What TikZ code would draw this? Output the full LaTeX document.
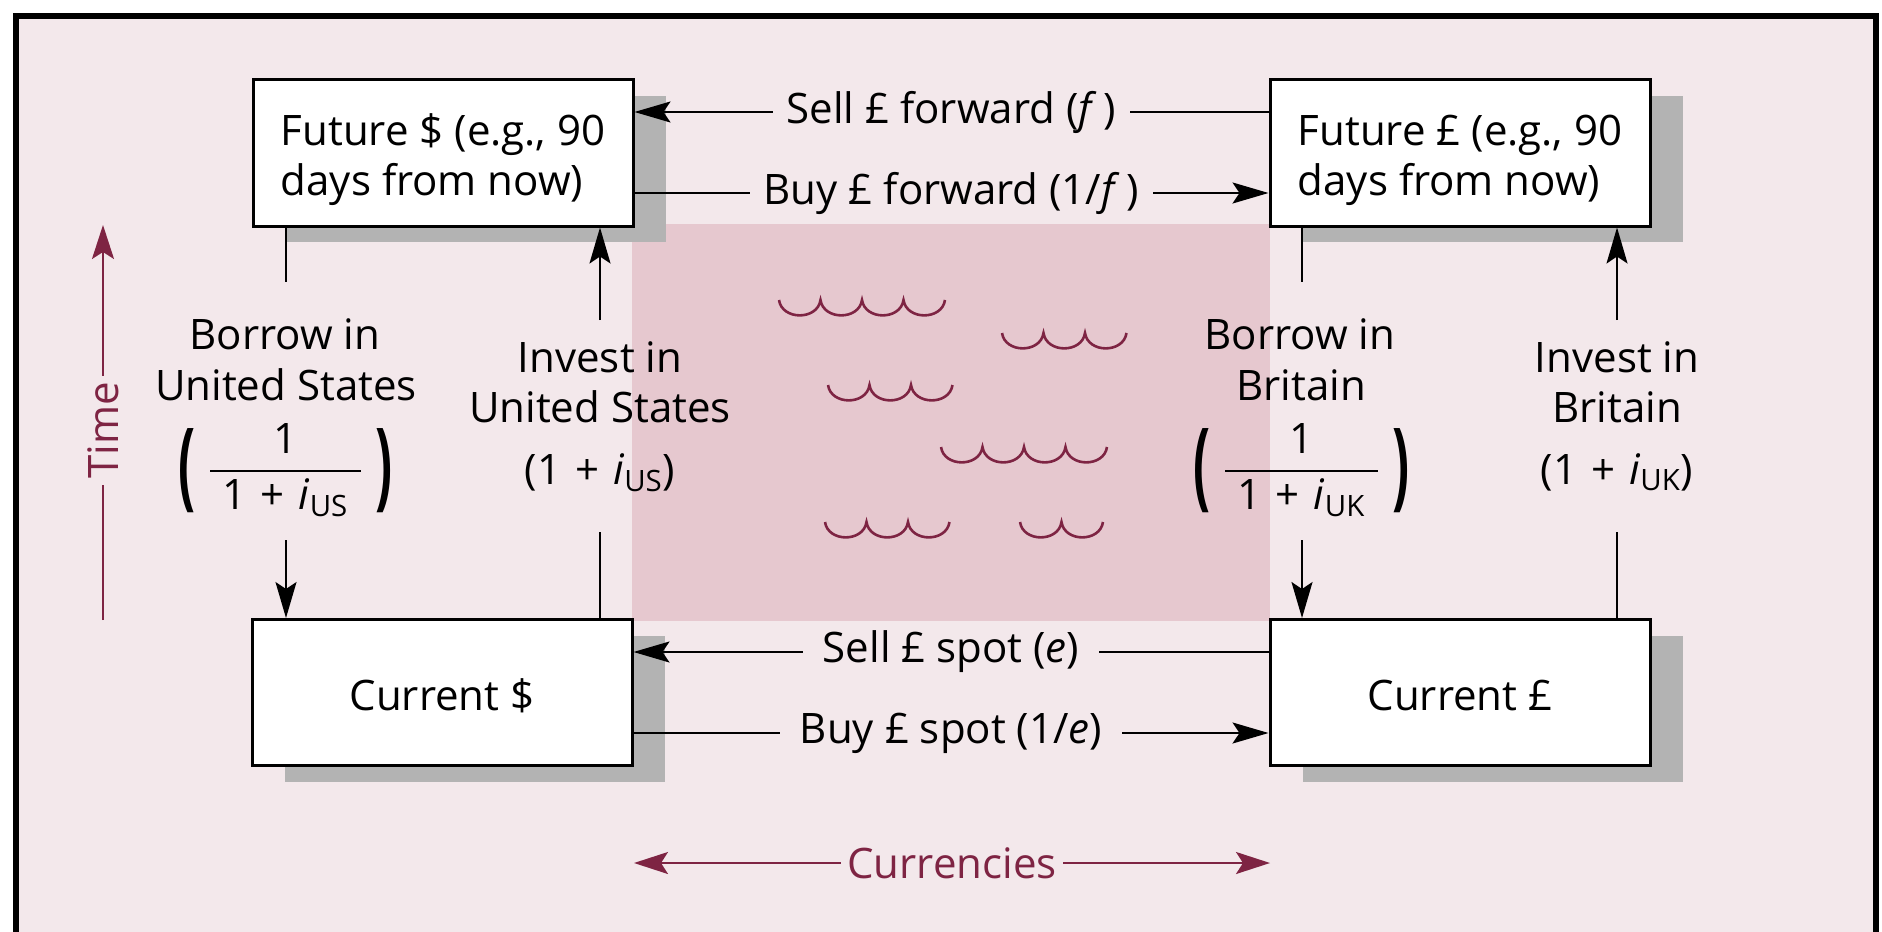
\documentclass[tikz,border=0pt]{standalone}
\usepackage{fontspec}
\usepackage{amsmath}
\usepackage{graphicx}
\setmainfont{Open Sans}
\usetikzlibrary{arrows.meta,shadows,calc}
\definecolor{bgpink}{HTML}{F3E8EB}
\definecolor{midpink}{HTML}{E6C8CF}
\definecolor{maroon}{HTML}{7E2443}
\definecolor{shade}{HTML}{B3B3B3}

% reciprocal-of-interest factor set between tall parentheses
\newcommand{\invfactor}[1]{$\vcenter{\hbox{\scalebox{1.2}[2.3]{\bfseries(}}}\hspace{6pt}%
  \dfrac{\text{1}}{\text{\hspace{0.3em}1\,\,+\,\,\textit{i}\textsubscript{#1}\hspace{0.3em}}}%
  \hspace{6pt}\vcenter{\hbox{\scalebox{1.2}[2.3]{\bfseries)}}}$}

\begin{document}
\begin{tikzpicture}[x=0.5pt, y=-0.5pt,
  every node/.style={font=\fontsize{21}{25}\selectfont},
  box/.style={draw, line width=1.5pt, fill=white, minimum width=190pt,
    minimum height=73pt, inner sep=0pt,
    drop shadow={shadow xshift=16.5pt, shadow yshift=-8pt, fill=shade, opacity=1}},
  boxtext/.style={inner sep=0pt, align=left},
  conn/.style={line width=1pt},
  arr/.style={conn, -{Stealth[length=18pt, width=10.5pt, inset=3.5pt]}},
  lab/.style={fill=bgpink, inner xsep=7pt, inner ysep=1pt},
  marr/.style={line width=1pt, draw=maroon, -{Stealth[length=17pt, width=11pt, inset=3.5pt]}},
  mlab/.style={fill=bgpink, text=maroon, inner xsep=3pt, inner ysep=1pt},
  wave/.style={draw=maroon, line width=1.3pt}
]
\useasboundingbox (0,0) rectangle (1882,931);
\fill[white] (0,0) rectangle (1882,931);
\fill[bgpink] (16,16) rectangle (1876,940);
\draw[line width=3pt] (16,945) -- (16,16) -- (1876,16) -- (1876,945);

% shaded region between the four positions
\fill[midpink] (632,224) rectangle (1270,621);

% waves
\foreach \wx/\wy/\wn in {779/300/4, 1002/333/3, 828/385/3, 941/447/4, 825/522/3, 1020/522/2}
  \draw[wave] (\wx,\wy) foreach \k in {1,...,\wn} { .. controls +(3,20.5) and +(-3,20.5) .. ++(41.5,0) };

% the four positions
\node[box] (FS) at (443,153) {};
\node[box] (FP) at (1460,153) {};
\node[box] (CS) at (442,692.5) {};
\node[box] (CP) at (1460,692.5) {};
\node[boxtext] (FSt) at ([yshift=-3.5pt]FS.center) {Future \$ (e.g., 90\\days from now)};
\node[boxtext] (FPt) at ([yshift=-3.5pt]FP.center) {Future £ (e.g., 90\\days from now)};
\node[boxtext, anchor=base] (CSt) at (442,710) {Current \$};
\node[boxtext, anchor=base] (CPt) at (1460,710) {Current £};

% currency exchanges
\draw[arr] ([yshift=20.5pt]FP.west) -- node[lab] (sf) {Sell £ forward (\textit{f}\,)} ([yshift=20.5pt]FS.east);
\draw[arr] ([yshift=-20pt]FS.east) -- node[lab] (bf) {Buy £ forward (1/\textit{f}\,)} ([yshift=-20pt]FP.west);
\draw[arr] ([yshift=20.25pt]CP.west) -- node[lab, inner xsep=10pt] (ss) {Sell £ spot (\textit{e})} ([yshift=20.25pt]CS.east);
\draw[arr] ([yshift=-20.25pt]CS.east) -- node[lab, inner xsep=10pt] (bs) {Buy £ spot (1/\textit{e})} ([yshift=-20.25pt]CP.west);

% borrowing and investing
\coordinate (bUS1) at (286,282); \coordinate (bUS2) at (286,540);
\coordinate (iUS1) at (600,532); \coordinate (iUS2) at (600,320);
\coordinate (bUK1) at (1302,282); \coordinate (bUK2) at (1302,540);
\coordinate (iUK1) at (1617,532); \coordinate (iUK2) at (1617,320);

\draw[conn] (FS.south -| bUS1) -- (bUS1);
\draw[arr] (bUS2) -- (CS.north -| bUS2);
\draw[conn] (CS.north -| iUS1) -- (iUS1);
\draw[arr] (iUS2) -- (FS.south -| iUS2);
\draw[conn] (FP.south -| bUK1) -- (bUK1);
\draw[arr] (bUK2) -- (CP.north -| bUK2);
\draw[conn] (CP.north -| iUK1) -- (iUK1);
\draw[arr] (iUK2) -- (FP.south -| iUK2);

\node[anchor=base] (bUSa) at (285,349) {Borrow in};
\node[anchor=base] (bUSb) at (286,400) {United States};
\node (bUSf) at (285.5,470) {\invfactor{US}};

\node[anchor=base] (iUSa) at (600,372) {Invest in};
\node[anchor=base] (iUSb) at (600,422) {United States};
\node[anchor=base] (iUSc) at (600,484) {(1\,\,+\,\,\textit{i}\textsubscript{US})};

\node[anchor=base] (bUKa) at (1300,349) {Borrow in};
\node[anchor=base] (bUKb) at (1301,400) {Britain};
\node (bUKf) at (1301.5,470) {\invfactor{UK}};

\node[anchor=base] (iUKa) at (1617,372) {Invest in};
\node[anchor=base] (iUKb) at (1617,422) {Britain};
\node[anchor=base] (iUKc) at (1617,484) {(1\,\,+\,\,\textit{i}\textsubscript{UK})};

% axes
\coordinate (t0) at (103,620); \coordinate (t1) at (103,225);
\draw[marr] (t0) -- node[mlab, rotate=90, pos=0.48] (time) {Time} (t1);
\coordinate (c0) at (634,863); \coordinate (c1) at (1270,863);
\draw[marr, {Stealth[length=17pt, width=11pt, inset=3.5pt]}-{Stealth[length=17pt, width=11pt, inset=3.5pt]}]
  (c0) -- node[mlab] (cur) {Currencies} (c1);
\end{tikzpicture}
\end{document}
